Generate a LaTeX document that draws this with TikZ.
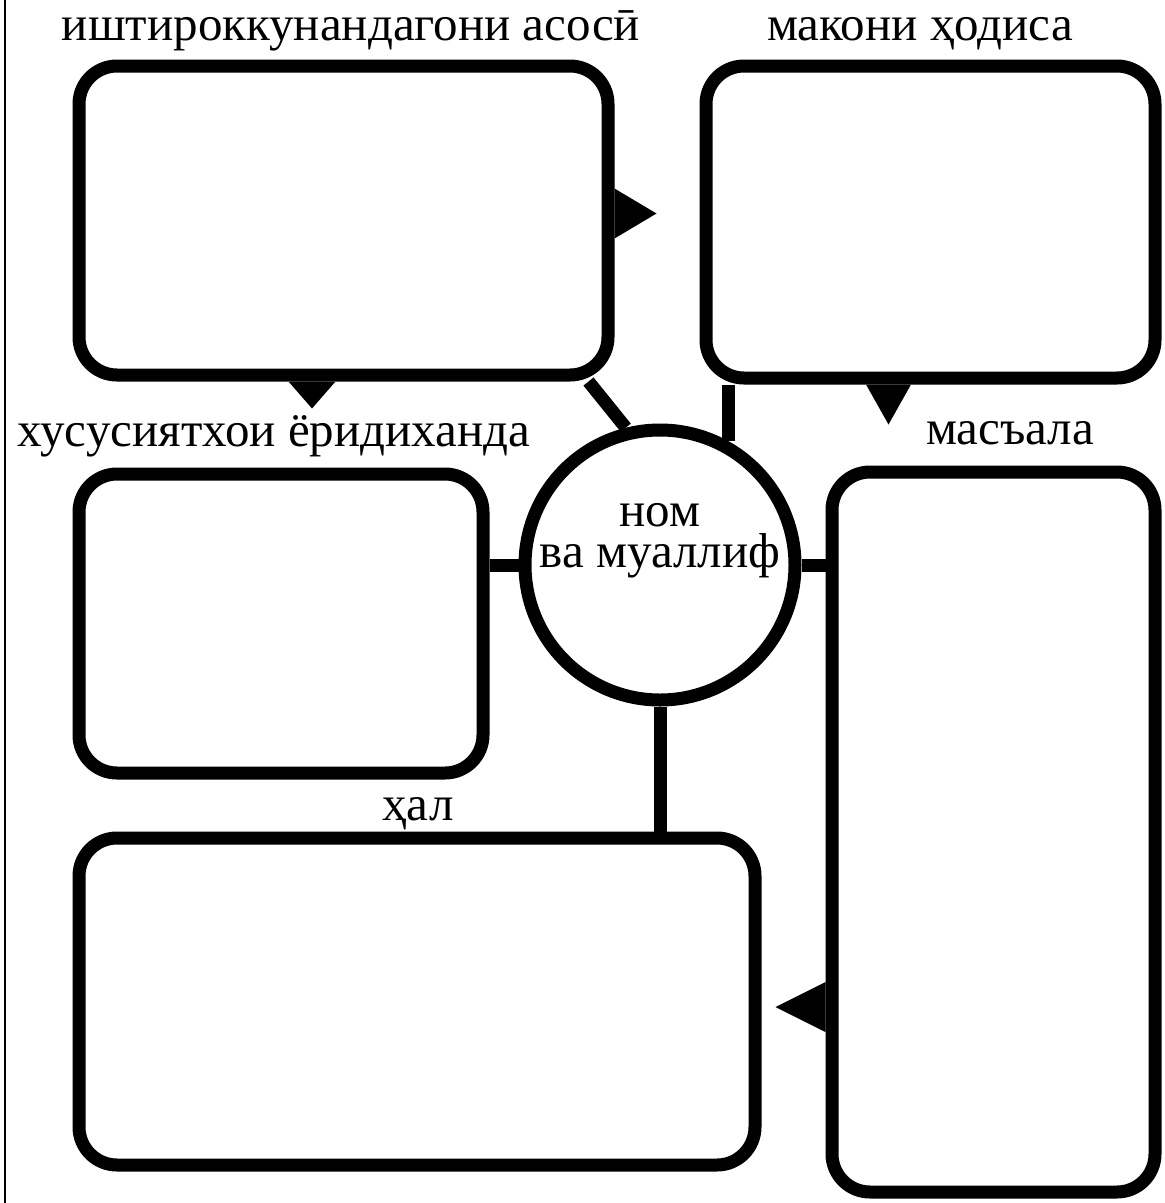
\documentclass[tikz,border=0pt]{standalone}
\usepackage{fontspec}
\setmainfont{Liberation Serif}
\usepackage{tikz}
\usetikzlibrary{positioning}
\usetikzlibrary{calc}

\begin{document}
\begin{tikzpicture}[x=1pt,y=-1pt]
\tikzset{panel/.style={rectangle,inner sep=0pt,rounded corners=38pt,line width=13pt,draw}}
\tikzset{hub/.style={circle,inner sep=0pt,minimum size=270pt,line width=13pt,draw}}
\tikzset{link/.style={line width=13pt}}
\tikzset{bubbletip/.style={fill=black}}
\tikzset{caption/.style={anchor=base,inner sep=0pt,font=\fontsize{49}{44}\selectfont}}
\useasboundingbox (0,0) rectangle (1165,1203);
\draw[line width=2pt] (5,0) -- (5,1203);
% boxes
\node[panel,minimum width=529pt,minimum height=309pt] (actors) at (343.5,220.5) {};
\node[panel,minimum width=449pt,minimum height=312pt] (place) at (930.5,222) {};
\node[panel,minimum width=404pt,minimum height=299pt] (traits) at (281,623.5) {};
\node[panel,minimum width=323pt,minimum height=720pt] (problem) at (993.5,832) {};
\node[panel,minimum width=676pt,minimum height=327pt] (solution) at (417,1001.5) {};
\node[hub] (title) at (660,565) {};
\node[align=center,inner sep=0pt,font=\fontsize{49}{41}\selectfont] (titletext) at (660,541) {ном\\ва муаллиф};
% labels
\node[caption] (actorslbl) at (351,40) {иштироккунандагони асосӣ};
\node[caption] (placelbl) at (920,40) {макони ҳодиса};
\node[caption] (traitslbl) at (274,446) {хусусиятхои ёридиханда};
\node[caption] (problemlbl) at (1010,444) {масъала};
\node[caption] (solutionlbl) at (418,820) {ҳал};
% connectors
\draw[link] ($(actors.south east)+(-26,0)$) -- (title.104);
\draw[link] (title.61) -- (title.61 |- place.south);
\draw[link] (title.west) -- (title.west -| traits.east);
\draw[link] (title.east) -- (title.east -| problem.west);
\draw[link] (title.south) -- (title.south |- solution.north);
% pointers
\fill[bubbletip] ($(actors.east)+(0,-32)$) -- ++(42,25) -- ++(-42,25) -- cycle;
\fill[bubbletip] ($(actors.south)+(-55,0)$) -- ++(23.5,27) -- ++(23.5,-27) -- cycle;
\fill[bubbletip] ($(place.south)+(-64.5,0)$) -- ++(22.5,40) -- ++(22.5,-40) -- cycle;
\fill[bubbletip] ($(problem.west)+(0,150)$) -- ++(-50,25) -- ++(50,25) -- cycle;
\end{tikzpicture}
\end{document}
